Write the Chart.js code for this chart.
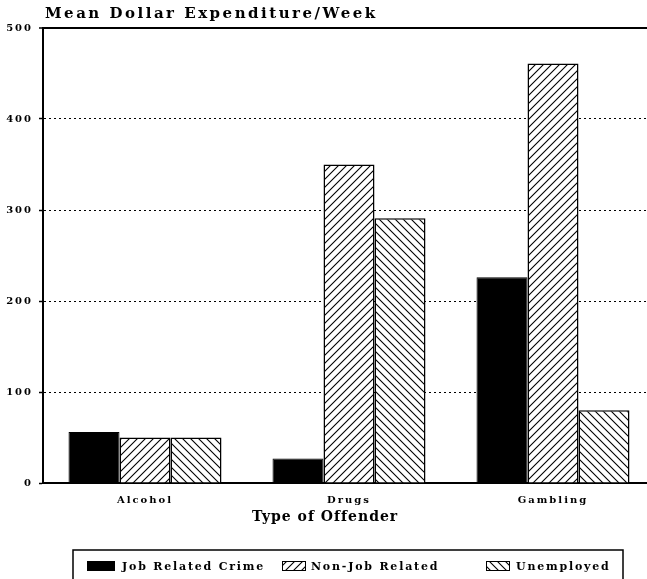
<!DOCTYPE html>
<html>
<head>
<meta charset="utf-8">
<script src="https://cdn.jsdelivr.net/npm/chart.js@4.4.0/dist/chart.umd.min.js"></script>
<style>
    html, body { margin: 0; padding: 0; background: #fff; overflow: hidden; }
    #wrap { width: 690px; height: 579px; }
</style>
</head>
<body>
<div id="wrap"><canvas id="chart" width="690" height="579"></canvas></div>
<script>
const CATEGORIES = ['Alcohol', 'Drugs', 'Gambling'];
const SERIES = ['Job Related Crime', 'Non-Job Related', 'Unemployed'];
const JOB_RELATED = [56, 27, 226];
const NON_JOB = [50, 350, 461];
const UNEMPLOYED = [50, 291, 80];
const Y_TICKS = [0, 100, 200, 300, 400, 500];

const SERIF = "'DejaVu Serif', 'Liberation Serif', serif";

// diagonal hatch tiles, dir 1 = '/', dir -1 = '\'
function hatch(dir) {
    const c = document.createElement('canvas');
    c.width = 8; c.height = 8;
    const g = c.getContext('2d');
    g.fillStyle = '#fff';
    g.fillRect(0, 0, 8, 8);
    g.strokeStyle = '#000';
    g.lineWidth = 1.1;
    g.beginPath();
    if (dir > 0) {
        g.moveTo(-1, 1); g.lineTo(1, -1);
        g.moveTo(0, 8); g.lineTo(8, 0);
        g.moveTo(7, 9); g.lineTo(9, 7);
    } else {
        g.moveTo(0, 0); g.lineTo(8, 8);
        g.moveTo(-1, 7); g.lineTo(1, 9);
        g.moveTo(7, -1); g.lineTo(9, 1);
    }
    g.stroke();
    return g.createPattern(c, 'repeat');
}

const fwdHatch = hatch(1);
const backHatch = hatch(-1);
const FILLS = ['#000', fwdHatch, backHatch];

// text, spacing and legend box drawn around the chart
const decorations = {
    id: 'decorations',
    beforeDraw(chart) {
        chart.ctx.letterSpacing = '2px';
    },
    afterDraw(chart) {
        const ctx = chart.ctx;
        ctx.save();
        ctx.fillStyle = '#000';
        ctx.textBaseline = 'alphabetic';
        ctx.textAlign = 'left';

        ctx.letterSpacing = '2.5px';
        ctx.font = 'bold 15px ' + SERIF;
        ctx.fillText('Mean Dollar Expenditure/Week', 45, 18);

        ctx.letterSpacing = '1px';
        ctx.font = 'bold 14px ' + SERIF;
        ctx.fillText('Type of Offender', 252, 521);

        // legend
        ctx.strokeStyle = '#000';
        ctx.lineWidth = 1.5;
        ctx.strokeRect(73, 550, 550, 45);

        const swatchX = [87, 282, 486];
        const textX = [122, 311, 516];
        ctx.font = 'bold 11px ' + SERIF;
        ctx.letterSpacing = '1.8px';
        SERIES.forEach((name, i) => {
            const w = i === 0 ? 28 : 24;
            ctx.fillStyle = FILLS[i];
            ctx.fillRect(swatchX[i], 561, w, 10);
            ctx.lineWidth = 1;
            ctx.strokeRect(swatchX[i] + 0.5, 561.5, w - 1, 9);
            ctx.fillStyle = '#000';
            ctx.fillText(name, textX[i], 570);
        });
        ctx.restore();
    }
};

new Chart(document.getElementById('chart'), {
    type: 'bar',
    data: {
        labels: CATEGORIES,
        datasets: [
            { label: SERIES[0], data: JOB_RELATED, backgroundColor: '#000', borderColor: '#000', borderWidth: 1 },
            { label: SERIES[1], data: NON_JOB, backgroundColor: fwdHatch, borderColor: '#000', borderWidth: 1.5 },
            { label: SERIES[2], data: UNEMPLOYED, backgroundColor: backHatch, borderColor: '#000', borderWidth: 1.5 }
        ]
    },
    options: {
        responsive: false,
        animation: false,
        layout: { padding: { top: 28, right: 35, left: 0, bottom: 0 } },
        datasets: { bar: { categoryPercentage: 0.75, barPercentage: 1.0 } },
        plugins: {
            legend: { display: false },
            title: { display: false },
            tooltip: { enabled: false }
        },
        scales: {
            x: {
                grid: { display: false },
                border: { display: true, color: '#000', width: 2 },
                ticks: {
                    color: '#000',
                    padding: 3,
                    font: { family: SERIF, weight: 'bold', size: 10 }
                },
                afterFit: s => { s.height = 96; }
            },
            y: {
                min: 0,
                max: 500,
                afterBuildTicks: s => { s.ticks = Y_TICKS.map(v => ({ value: v })); },
                afterFit: s => { s.width = 43; },
                grid: {
                    color: c => (c.tick && c.tick.value === 0) ? 'rgba(0,0,0,0)' : '#000',
                    lineWidth: c => (c.tick && c.tick.value === 500) ? 2 : 1,
                    tickColor: '#000',
                    tickLength: 4,
                    tickWidth: 1.5
                },
                border: {
                    display: true,
                    color: '#000',
                    width: 2,
                    dash: c => (c.tick && c.tick.value === 500) ? [] : [2, 3]
                },
                ticks: {
                    color: '#000',
                    padding: 6,
                    font: { family: SERIF, weight: 'bold', size: 10 }
                }
            }
        }
    },
    plugins: [decorations]
});
</script>
</body>
</html>
